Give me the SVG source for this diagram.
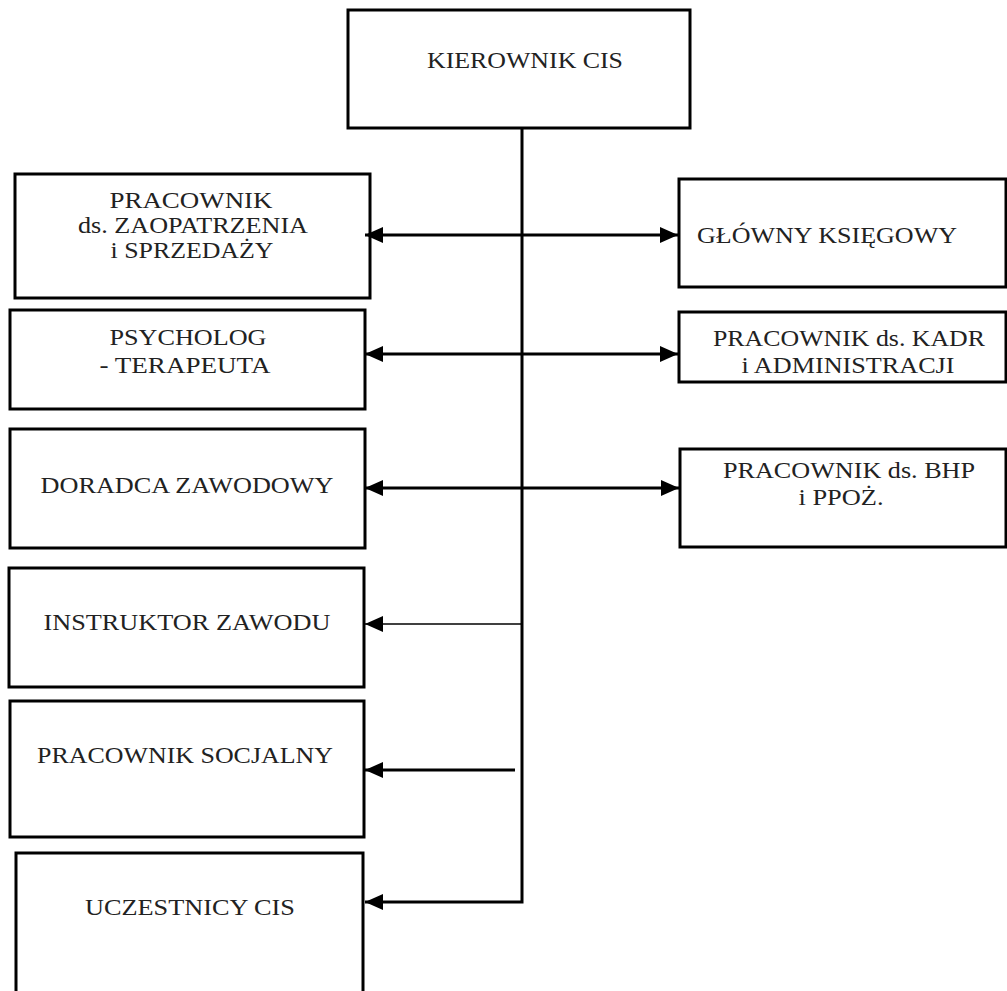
<svg xmlns="http://www.w3.org/2000/svg" width="1007" height="991" viewBox="0 0 1007 991">
<defs>
<style>
.box{fill:#fff;stroke:#000;stroke-width:3}
.t{font-family:"Liberation Serif","Times New Roman",serif;font-size:23px;fill:#222;text-anchor:middle}
.c{stroke:#000;stroke-width:3;fill:none}
.thin{stroke:#000;stroke-width:1.5;fill:none}
</style>
<marker id="ah" markerUnits="userSpaceOnUse" markerWidth="20" markerHeight="18" refX="18" refY="8" orient="auto-start-reverse" viewBox="0 0 20 18">
<path d="M0,0 L18,8 L0,16 Z" fill="#000"/>
</marker>
</defs>
<rect width="1007" height="991" fill="#fff"/>
<g id="kierownik"><rect class="box" x="348" y="10" width="342" height="118"/><text class="t" x="525" y="68" textLength="196" lengthAdjust="spacingAndGlyphs">KIEROWNIK CIS</text></g>
<g id="zaopatrzenie"><rect class="box" x="15" y="174" width="355" height="124"/>
<text class="t" x="191" y="208" textLength="163" lengthAdjust="spacingAndGlyphs">PRACOWNIK</text>
<text class="t" x="193" y="233" textLength="230" lengthAdjust="spacingAndGlyphs">ds. ZAOPATRZENIA</text>
<text class="t" x="192" y="258" textLength="163" lengthAdjust="spacingAndGlyphs">i SPRZEDAŻY</text></g>
<g id="psycholog"><rect class="box" x="10" y="310" width="355" height="99"/>
<text class="t" x="188" y="345" textLength="157" lengthAdjust="spacingAndGlyphs">PSYCHOLOG</text>
<text class="t" x="185" y="373" textLength="171" lengthAdjust="spacingAndGlyphs">- TERAPEUTA</text></g>
<g id="doradca"><rect class="box" x="10" y="429" width="355" height="119"/>
<text class="t" x="187" y="493" textLength="293" lengthAdjust="spacingAndGlyphs">DORADCA ZAWODOWY</text></g>
<g id="instruktor"><rect class="box" x="9" y="568" width="355" height="119"/>
<text class="t" x="187" y="630" textLength="287" lengthAdjust="spacingAndGlyphs">INSTRUKTOR ZAWODU</text></g>
<g id="socjalny"><rect class="box" x="10" y="701" width="354" height="136"/>
<text class="t" x="185" y="763" textLength="296" lengthAdjust="spacingAndGlyphs">PRACOWNIK SOCJALNY</text></g>
<g id="uczestnicy"><rect class="box" x="16" y="853" width="347" height="150"/>
<text class="t" x="190" y="915" textLength="210" lengthAdjust="spacingAndGlyphs">UCZESTNICY CIS</text></g>
<g id="ksiegowy"><rect class="box" x="679" y="179" width="327" height="108"/>
<text class="t" x="827" y="243" textLength="260" lengthAdjust="spacingAndGlyphs">GŁÓWNY KSIĘGOWY</text></g>
<g id="kadry"><rect class="box" x="679" y="312" width="327" height="70"/>
<text class="t" x="849" y="346" textLength="272" lengthAdjust="spacingAndGlyphs">PRACOWNIK ds. KADR</text>
<text class="t" x="848" y="373" textLength="213" lengthAdjust="spacingAndGlyphs">i ADMINISTRACJI</text></g>
<g id="bhp"><rect class="box" x="680" y="449" width="326" height="98"/>
<text class="t" x="849" y="478" textLength="252" lengthAdjust="spacingAndGlyphs">PRACOWNIK ds. BHP</text>
<text class="t" x="841" y="505" textLength="85" lengthAdjust="spacingAndGlyphs">i PPOŻ.</text></g>
<g id="connectors">
<path class="c" d="M522,128 V902 H365" marker-end="url(#ah)"/>
<path class="c" d="M365,235 H678" marker-start="url(#ah)" marker-end="url(#ah)"/>
<path class="c" d="M365,354 H678" marker-start="url(#ah)" marker-end="url(#ah)"/>
<path class="c" d="M365,488 H679" marker-start="url(#ah)" marker-end="url(#ah)"/>
<path class="thin" d="M522,624 H365" marker-end="url(#ah)"/>
<path class="c" d="M515,770 H365" marker-end="url(#ah)"/>
</g>
</svg>
